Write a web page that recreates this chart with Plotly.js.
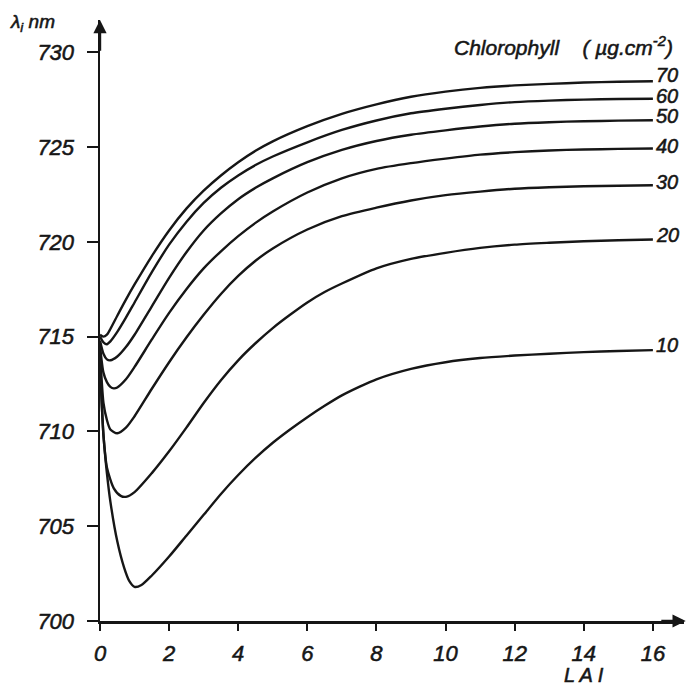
<!DOCTYPE html>
<html>
<head>
<meta charset="utf-8">
<script src="https://cdn.plot.ly/plotly-3.0.1.min.js"></script>
<style>
html,body{margin:0;padding:0;background:#fff;}
#chart{width:690px;height:689px;}
#chart svg text{stroke:#161616;stroke-width:0.55px;}
</style>
</head>
<body>
<div id="chart"></div>
<script>
// Chlorophyll levels (µg.cm-2)
var chlLevels = ["70", "60", "50", "40", "30", "20", "10"];

// LAI samples and red-edge inflection wavelength (nm) per curve
var lai70 = [0, 0.1, 0.2, 0.3, 0.5, 0.75, 1, 1.5, 2, 2.5, 3, 3.5, 4, 4.5, 5, 6, 7, 8, 9, 10, 11, 12, 13, 14, 15, 16];
var lam70 = [715.1, 715.0, 715.1, 715.4, 716.1, 716.95, 717.75, 719.25, 720.6, 721.75, 722.7, 723.5, 724.2, 724.8, 725.3, 726.1, 726.75, 727.25, 727.65, 727.92, 728.12, 728.25, 728.33, 728.4, 728.44, 728.47];

var lai60 = [0, 0.1, 0.2, 0.3, 0.5, 0.75, 1, 1.5, 2, 2.5, 3, 3.5, 4, 4.5, 5, 6, 7, 8, 9, 10, 11, 12, 13, 14, 15, 16];
var lam60 = [715.0, 714.7, 714.6, 714.75, 715.25, 716.0, 716.8, 718.4, 719.85, 721.05, 722.05, 722.85, 723.5, 724.05, 724.5, 725.25, 725.9, 726.4, 726.78, 727.02, 727.22, 727.37, 727.45, 727.5, 727.53, 727.55];

var lai50 = [0, 0.1, 0.2, 0.3, 0.5, 0.75, 1, 1.5, 2, 2.5, 3, 3.5, 4, 4.5, 5, 6, 7, 8, 9, 10, 11, 12, 13, 14, 15, 16];
var lam50 = [714.8, 714.1, 713.8, 713.75, 713.95, 714.45, 715.1, 716.6, 718.1, 719.45, 720.6, 721.5, 722.25, 722.85, 723.35, 724.2, 724.85, 725.32, 725.65, 725.88, 726.08, 726.23, 726.31, 726.36, 726.39, 726.41];

var lai40 = [0, 0.1, 0.2, 0.3, 0.4, 0.5, 0.75, 1, 1.5, 2, 2.5, 3, 3.5, 4, 4.5, 5, 6, 7, 8, 9, 10, 11, 12, 13, 14, 15, 16];
var lam40 = [714.5, 713.1, 712.6, 712.35, 712.27, 712.32, 712.75, 713.4, 714.85, 716.25, 717.5, 718.6, 719.5, 720.3, 721.0, 721.6, 722.6, 723.35, 723.85, 724.15, 724.39, 724.6, 724.73, 724.82, 724.87, 724.9, 724.92];

var lai30 = [0, 0.1, 0.2, 0.3, 0.5, 0.75, 1, 1.5, 2, 2.5, 3, 3.5, 4, 4.5, 5, 6, 7, 8, 9, 10, 11, 12, 13, 14, 15, 16];
var lam30 = [714.3, 711.5, 710.6, 710.1, 709.9, 710.2, 710.8, 712.25, 713.65, 714.95, 716.15, 717.25, 718.2, 719.0, 719.65, 720.65, 721.35, 721.8, 722.18, 722.46, 722.65, 722.8, 722.88, 722.93, 722.96, 722.98];

var lai20 = [0, 0.05, 0.1, 0.2, 0.4, 0.6, 0.75, 1, 1.5, 2, 2.5, 3, 3.5, 4, 4.5, 5, 5.5, 6, 6.5, 7, 8, 9, 10, 11, 12, 13, 14, 15, 16];
var lam20 = [713.8, 711.5, 709.8, 708.1, 707.0, 706.6, 706.55, 706.8, 707.8, 708.95, 710.2, 711.5, 712.7, 713.75, 714.65, 715.45, 716.15, 716.8, 717.35, 717.8, 718.6, 719.1, 719.42, 719.68, 719.85, 719.95, 720.03, 720.08, 720.12];

var lai10 = [0, 0.05, 0.1, 0.2, 0.3, 0.5, 0.7, 0.85, 1, 1.2, 1.5, 2, 2.5, 3, 3.5, 4, 4.5, 5, 5.5, 6, 6.5, 7, 7.5, 8, 9, 10, 11, 12, 13, 14, 15, 16];
var lam10 = [713.5, 711.5, 709.8, 707.8, 706.3, 704.2, 702.8, 702.1, 701.8, 701.9, 702.4, 703.4, 704.5, 705.6, 706.7, 707.7, 708.6, 709.4, 710.1, 710.75, 711.35, 711.9, 712.35, 712.75, 713.3, 713.65, 713.87, 714.0, 714.1, 714.18, 714.24, 714.29];

// Axis ticks
var xTicks = [0, 2, 4, 6, 8, 10, 12, 14, 16];
var yTicks = [700, 705, 710, 715, 720, 725, 730];

var xs = [lai70, lai60, lai50, lai40, lai30, lai20, lai10];
var ys = [lam70, lam60, lam50, lam40, lam30, lam20, lam10];
var labelShift = [6, 3, 4, 3, 3, 5, 5];

var ink = '#161616';
var fam = '"Liberation Sans", Arial, sans-serif';

var traces = [];
var annotations = [];
for (var i = 0; i < chlLevels.length; i++) {
  traces.push({
    x: xs[i], y: ys[i], type: 'scatter', mode: 'lines',
    line: {color: ink, width: 2.4, shape: 'spline', smoothing: 0.7},
    hoverinfo: 'skip', showlegend: false
  });
  var n = xs[i].length - 1;
  annotations.push({
    x: xs[i][n], y: ys[i][n], xref: 'x', yref: 'y',
    text: chlLevels[i], showarrow: false,
    xanchor: 'left', yanchor: 'middle', xshift: 1, yshift: labelShift[i],
    font: {family: fam, size: 20, style: 'italic', color: ink}
  });
}

// Axis arrowheads
annotations.push({
  x: 0, y: 731.7, ax: 0, ay: 730.0, xref: 'x', yref: 'y', axref: 'x', ayref: 'y',
  text: '', showarrow: true, arrowhead: 2, arrowsize: 1.1, arrowwidth: 2.4, arrowcolor: ink
});
annotations.push({
  x: 16.95, y: 700, ax: 16.2, ay: 700, xref: 'x', yref: 'y', axref: 'x', ayref: 'y',
  text: '', showarrow: true, arrowhead: 2, arrowsize: 1.1, arrowwidth: 2.4, arrowcolor: ink
});

// Titles
annotations.push({
  xref: 'paper', yref: 'paper', x: (452 - 100) / 584, y: (621 - 46) / 601,
  xanchor: 'left', yanchor: 'middle',
  text: 'Chlorophyll&nbsp;&nbsp;&nbsp;&nbsp;(&nbsp;µg.cm<sup>-2</sup>)', showarrow: false,
  font: {family: fam, size: 21, style: 'italic', color: ink}
});
annotations.push({
  xref: 'paper', yref: 'paper', x: (8 - 100) / 584, y: (621 - 23) / 601,
  xanchor: 'left', yanchor: 'middle',
  text: 'λ<sub>i</sub> nm', showarrow: false,
  font: {family: fam, size: 19, style: 'italic', color: ink}
});
annotations.push({
  xref: 'x', yref: 'paper', x: 14, y: (621 - 675) / 601,
  xanchor: 'center', yanchor: 'middle',
  text: 'L A I', showarrow: false,
  font: {family: fam, size: 20, style: 'italic', color: ink}
});

var layout = {
  width: 690, height: 689,
  margin: {l: 100, r: 6, t: 20, b: 68},
  paper_bgcolor: '#ffffff', plot_bgcolor: '#ffffff',
  showlegend: false,
  xaxis: {
    range: [0, 16.9], tickvals: xTicks, ticktext: xTicks.map(String),
    showgrid: false, zeroline: false, showline: true, linecolor: ink, linewidth: 2.5,
    ticks: 'outside', ticklen: 7, tickwidth: 2, tickcolor: ink,
    tickfont: {family: fam, size: 22, style: 'italic', color: ink},
    ticklabelstandoff: 4
  },
  yaxis: {
    range: [700, 731.7], tickvals: yTicks, ticktext: yTicks.map(String),
    showgrid: false, zeroline: false, showline: true, linecolor: ink, linewidth: 2.5,
    ticks: 'outside', ticklen: 11, tickwidth: 2, tickcolor: ink,
    tickfont: {family: fam, size: 22, style: 'italic', color: ink},
    ticklabelstandoff: 8
  },
  annotations: annotations
};

Plotly.newPlot('chart', traces, layout, {displayModeBar: false, staticPlot: true});
</script>
</body>
</html>
